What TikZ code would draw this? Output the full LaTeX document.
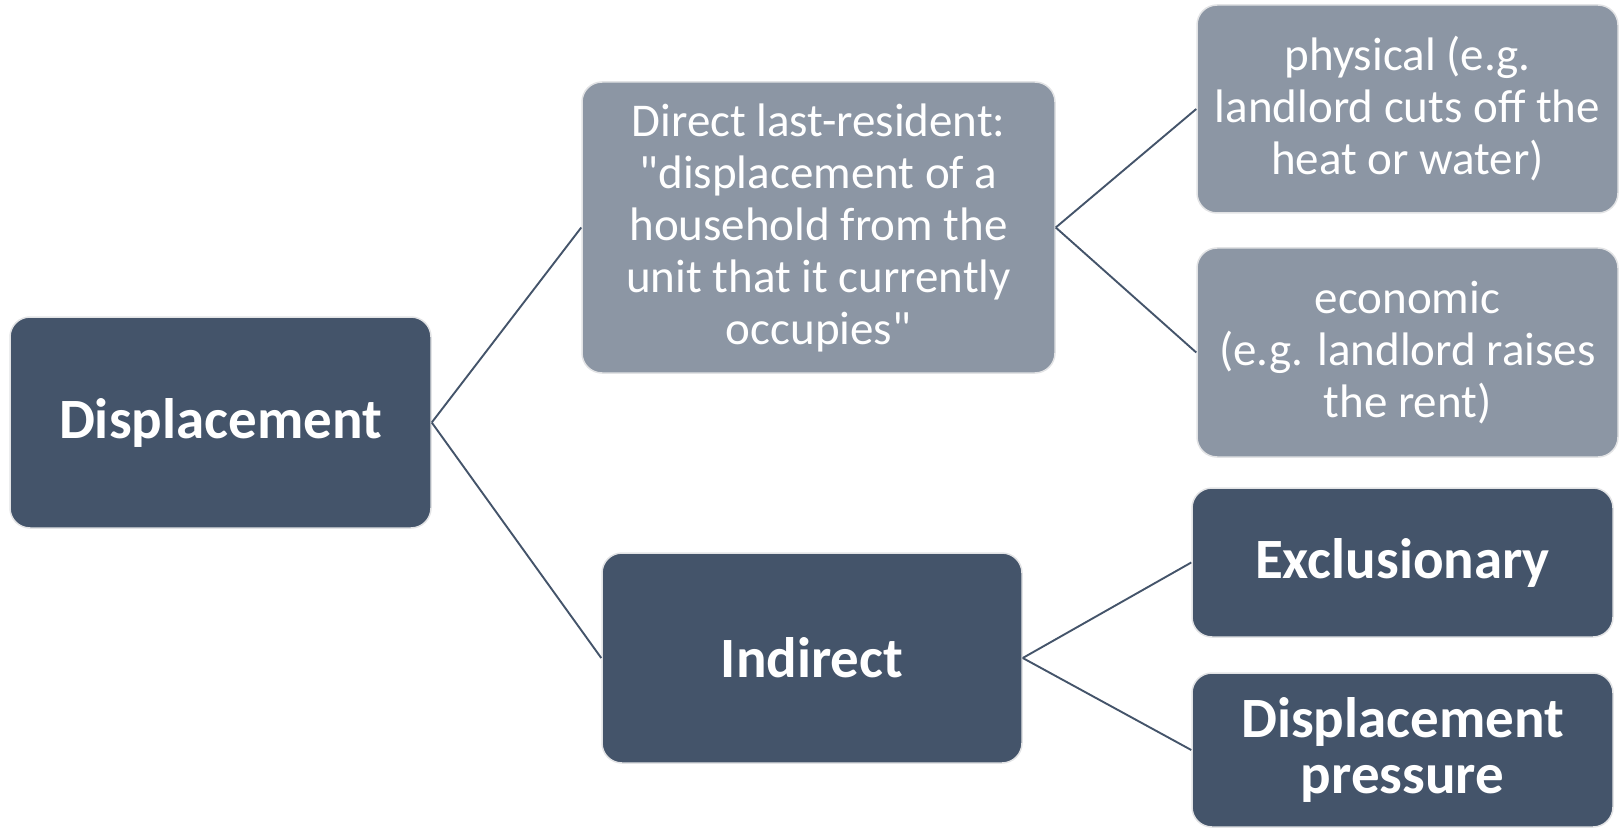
\documentclass[tikz,border=0pt]{standalone}
\usepackage{fontspec}
\setmainfont{Carlito}[Ligatures=TeXOff]
\usetikzlibrary{positioning}
\definecolor{slatedark}{HTML}{44546A}
\definecolor{slatelight}{HTML}{8C96A4}
\definecolor{boxrim}{HTML}{E2E3E5}
\tikzstyle{box} = [
    rectangle,
    rounded corners=20pt,
    draw=boxrim,
    line width=1.5pt,
    text=white,
    align=center,
    inner sep=0pt
]
\tikzstyle{main} = [box, fill=slatedark, font=\fontsize{57}{56}\selectfont\bfseries]
\tikzstyle{sub} = [box, fill=slatelight, font=\fontsize{47}{52}\selectfont]
\tikzstyle{link} = [draw=slatedark, line width=1.9pt]

\begin{document}
\begin{tikzpicture}[x=1pt, y=-1pt]
    \useasboundingbox (0, 0) rectangle (1620, 829);

    % Boxes.
    \node (displacement) [main, minimum width=421pt, minimum height=211pt] at (220.5, 422.5) {Displacement};

    \node (direct) [sub, minimum width=473pt, minimum height=291pt] at (818.5, 227.5)
        {Direct last-resident:\\"displacement of a\\household from the\\unit that it currently\\occupies"};
    \node (indirect) [main, minimum width=420pt, minimum height=210pt] at (812, 658) {Indirect};

    \node (physical) [sub, minimum width=421pt, minimum height=208pt] at (1407.5, 109)
        {physical (e.g.\\landlord cuts off the\\heat or water)};
    \node (economic) [sub, minimum width=421pt, minimum height=209pt] at (1407.5, 352.5)
        {economic\\(e.g. landlord raises\\the rent)};

    \node (exclusionary) [main, minimum width=421pt, minimum height=149pt] at (1402.5, 562.5) {Exclusionary};
    \node (pressure) [main, minimum width=421pt, minimum height=154pt] at (1402.5, 750) {Displacement\\pressure};

    % Links.
    \draw [link] (displacement.east) -- (direct.west);
    \draw [link] (displacement.east) -- (indirect.west);

    \draw [link] (direct.east) -- (physical.west);
    \draw [link] (direct.east) -- (economic.west);

    \draw [link] (indirect.east) -- (exclusionary.west);
    \draw [link] (indirect.east) -- (pressure.west);
\end{tikzpicture}
\end{document}
